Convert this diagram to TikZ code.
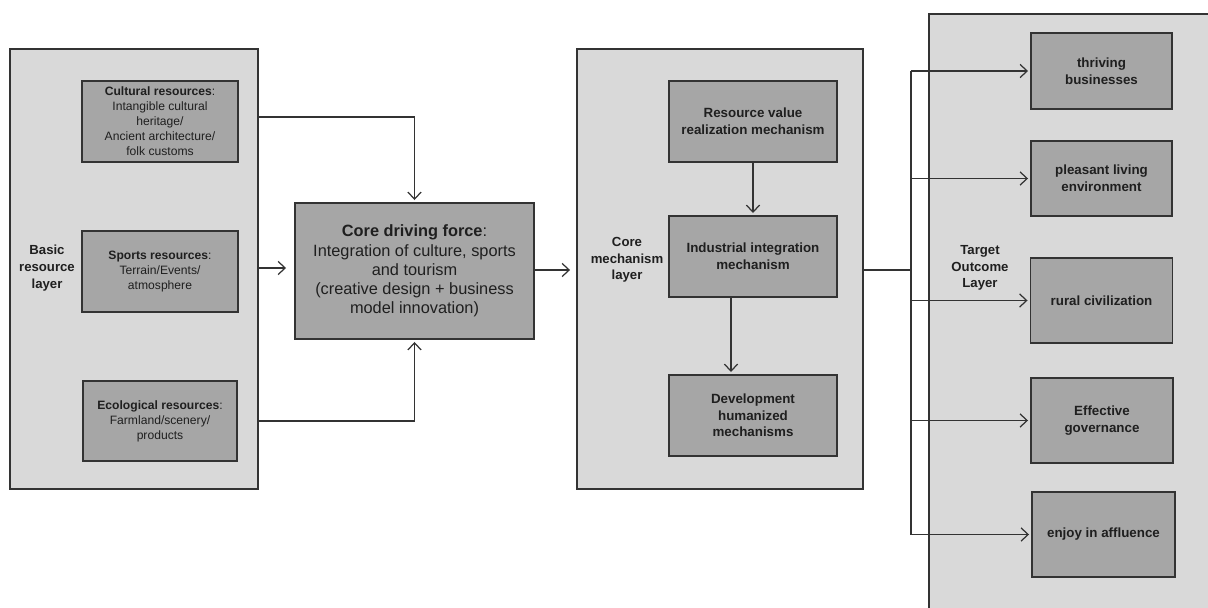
\documentclass[tikz,border=0pt]{standalone}
\usepackage{fontspec}
\setmainfont{Liberation Sans}
\usetikzlibrary{arrows.meta}

\begin{document}
\begin{tikzpicture}[
  x=0.02cm, y=-0.02cm,
  every node/.style={align=center, text=black!88, inner sep=1pt, outer sep=0pt},
  layer/.style={draw=black!80, line width=0.85pt, fill=black!15},
  box/.style={draw=black!80, line width=0.85pt, fill=black!35},
  small/.style={font=\fontsize{6.9}{8.5}\selectfont},
  bigger/.style={font=\fontsize{9.3}{10.9}\selectfont},
  bold/.style={font=\bfseries\fontsize{7.6}{9.5}\selectfont},
  tag/.style={font=\bfseries\fontsize{7.5}{9.5}\selectfont},
  link/.style={line width=0.7pt, draw=black!80},
  >={Straight Barb[length=4pt,width=7.5pt]},
  ]
  \useasboundingbox (0,0) rectangle (1208,608);
  \clip (0,0) rectangle (1208,608);

  % layers
  \node[layer, minimum width=4.96cm, minimum height=8.8cm] (basic) at (134,269) {};
  \node[layer, minimum width=5.72cm, minimum height=8.8cm] (mech) at (720,269) {};
  \node[layer, minimum width=6.2cm, minimum height=12.8cm] (target) at (1084,334) {};

  \node[tag] (basiclbl) at (47,268) {Basic\\resource\\layer};
  \node[tag] (mechlbl) at (627,260) {Core\\mechanism\\layer};
  \node[tag] (targetlbl) at (980,268) {Target\\Outcome\\Layer};

  % resources
  \node[box, small, minimum width=3.12cm, minimum height=1.62cm] (cult) at (160,121.5)
    {\textbf{Cultural resources}:\\Intangible cultural\\heritage/\\Ancient architecture/\\folk customs};
  \node[box, small, minimum width=3.12cm, minimum height=1.62cm] (sport) at (160,271.5)
    {\textbf{Sports resources}:\\Terrain/Events/\\atmosphere};
  \node[box, small, minimum width=3.08cm, minimum height=1.6cm] (eco) at (160,421)
    {\textbf{Ecological resources}:\\Farmland/scenery/\\products};

  % driving force
  \node[box, bigger, minimum width=4.78cm, minimum height=2.72cm] (core) at (414.5,271)
    {\textbf{Core driving force}:\\Integration of culture, sports\\and tourism\\(creative design + business\\model innovation)};

  % mechanisms
  \node[box, bold, minimum width=3.36cm, minimum height=1.62cm] (value) at (753,121.5)
    {Resource value\\realization mechanism};
  \node[box, bold, minimum width=3.36cm, minimum height=1.62cm] (indus) at (753,256.5)
    {Industrial integration\\mechanism};
  \node[box, bold, minimum width=3.36cm, minimum height=1.62cm] (human) at (753,415.5)
    {Development\\humanized\\mechanisms};

  % outcomes
  \node[box, bold, minimum width=2.82cm, minimum height=1.52cm] (biz) at (1101.5,71) {thriving\\businesses};
  \node[box, bold, minimum width=2.82cm, minimum height=1.5cm] (env) at (1101.5,178.5) {pleasant living\\environment};
  \node[box, bold, minimum width=2.84cm, minimum height=1.7cm] (rural) at (1101.5,300.5) {rural civilization};
  \node[box, bold, minimum width=2.84cm, minimum height=1.7cm] (gov) at (1102,420.5) {Effective\\governance};
  \node[box, bold, minimum width=2.86cm, minimum height=1.7cm] (rich) at (1103.5,534.5) {enjoy in affluence};

  \coordinate (split) at (911,270);

  % connectors
  \draw[link, ->] (basic.east |- 0,117) -| ([yshift=0.06cm]core.north);
  \draw[link, ->] (basic.east |- eco) -| ([yshift=-0.06cm]core.south);
  \draw[link, ->] (basic.east |- 0,268) -- ([xshift=-0.18cm]core.west |- 0,268);
  \draw[link, ->] (core.east |- 0,270) -- ([xshift=-0.14cm]mech.west |- 0,270);
  \draw[link, ->] (value) -- ([yshift=0.06cm]indus.north);
  \draw[link, ->] (indus.south -| 731,0) -- ([yshift=0.06cm]human.north -| 731,0);
  \draw[link, line width=1.4pt] (mech.east |- split) -- (split);
  \draw[link] (split |- biz) -- (split |- rich);
  \foreach \goal in {biz,env,rural,gov,rich}
    \draw[link, ->] (split |- \goal) -- ([xshift=-0.06cm]\goal.west);
\end{tikzpicture}
\end{document}
